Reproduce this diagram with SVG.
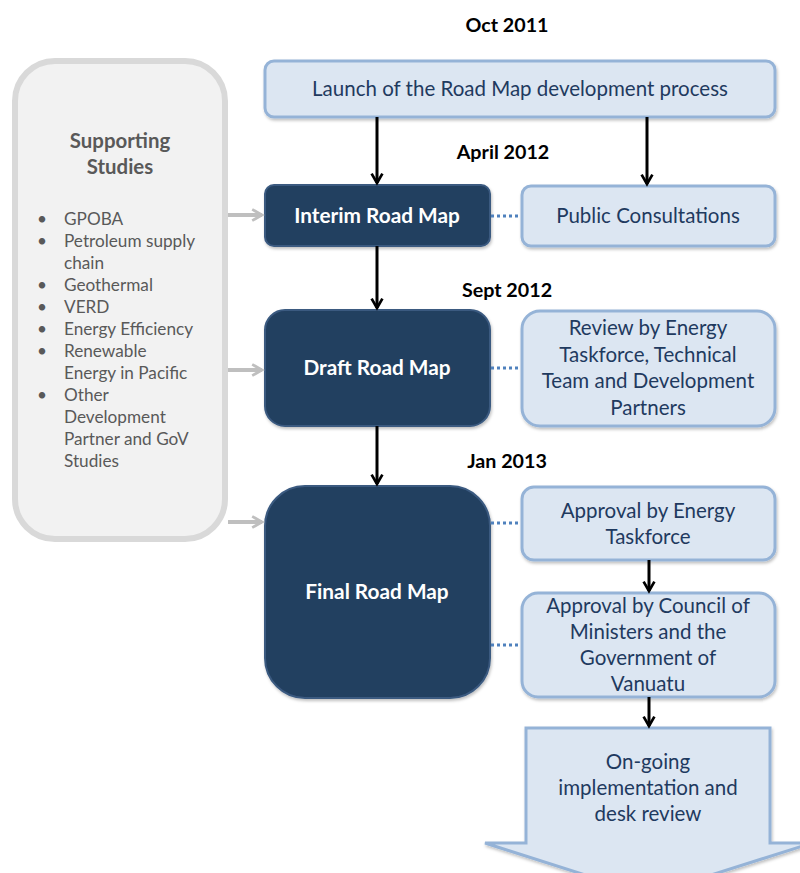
<svg xmlns="http://www.w3.org/2000/svg" width="800" height="873" viewBox="0 0 800 873">
<defs>
<style>
.lt{fill:#dce6f2;stroke:#95b3d7;stroke-width:3}
.dk{fill:#243f60;stroke:#3a5a80;stroke-width:2}
.t{font-family:Lato,"Liberation Sans",sans-serif;font-size:20.5px;fill:#1f3a5f;text-anchor:middle}
.w{font-family:Lato,"Liberation Sans",sans-serif;font-size:20.8px;font-weight:bold;fill:#ffffff;text-anchor:middle}
.d{font-family:Lato,"Liberation Sans",sans-serif;font-size:19.7px;font-weight:bold;fill:#000000;text-anchor:middle}
.g{font-family:Lato,"Liberation Sans",sans-serif;font-size:17.2px;fill:#595959}
.gh{font-family:Lato,"Liberation Sans",sans-serif;font-size:20.4px;font-weight:bold;fill:#595959;text-anchor:middle}
.blk{stroke:#000;stroke-width:3;fill:none}
.gry{stroke:#bfbfbf;stroke-width:4;fill:none}
.dot{stroke:#4f81bd;stroke-width:3;stroke-dasharray:3 3;fill:none}
</style>
<marker id="ah" viewBox="0 0 10 10" refX="8" refY="5" markerWidth="4.5" markerHeight="4.5" orient="auto" markerUnits="strokeWidth">
<path d="M1,1 L8,5 L1,9" fill="none" stroke="#000" stroke-width="2"/>
</marker>
<marker id="ag" viewBox="0 0 10 10" refX="8" refY="5" markerWidth="3.5" markerHeight="3.5" orient="auto" markerUnits="strokeWidth">
<path d="M1,1 L8,5 L1,9" fill="none" stroke="#bfbfbf" stroke-width="2"/>
</marker>
<filter id="sh" x="-10%" y="-10%" width="120%" height="130%">
<feDropShadow dx="1" dy="2" stdDeviation="1.5" flood-color="#000" flood-opacity="0.25"/>
</filter>
</defs>
<rect width="800" height="873" fill="#ffffff"/>

<text class="d" x="507" y="32">Oct 2011</text>
<text class="d" x="503" y="159">April 2012</text>
<text class="d" x="507" y="297">Sept 2012</text>
<text class="d" x="507" y="468">Jan 2013</text>

<g id="supporting">
<rect x="15" y="61" width="210" height="478" rx="40" fill="#f2f2f2" stroke="#d9d9d9" stroke-width="6"/>
<text class="gh" x="120" y="148">Supporting</text>
<text class="gh" x="120" y="174">Studies</text>
<g class="g">
<text x="37" y="225">•</text><text x="64" y="225">GPOBA</text>
<text x="37" y="247">•</text><text x="64" y="247">Petroleum supply</text>
<text x="64" y="269">chain</text>
<text x="37" y="291">•</text><text x="64" y="291">Geothermal</text>
<text x="37" y="313">•</text><text x="64" y="313">VERD</text>
<text x="37" y="335">•</text><text x="64" y="335">Energy Efficiency</text>
<text x="37" y="357">•</text><text x="64" y="357">Renewable</text>
<text x="64" y="379">Energy in Pacific</text>
<text x="37" y="401">•</text><text x="64" y="401">Other</text>
<text x="64" y="423">Development</text>
<text x="64" y="445">Partner and GoV</text>
<text x="64" y="467">Studies</text>
</g>
</g>

<g id="launch">
<rect class="lt" x="265" y="61" width="510" height="56" rx="9" filter="url(#sh)"/>
<text class="t" x="520" y="96">Launch of the Road Map development process</text>
</g>

<g id="interim">
<rect class="dk" x="265" y="185" width="225" height="61" rx="9" filter="url(#sh)"/>
<text class="w" x="377" y="223">Interim Road Map</text>
</g>

<g id="public">
<rect class="lt" x="522" y="186" width="253" height="60" rx="9" filter="url(#sh)"/>
<text class="t" x="648" y="223">Public Consultations</text>
</g>

<g id="draft">
<rect class="dk" x="265" y="310" width="225" height="116" rx="20" filter="url(#sh)"/>
<text class="w" x="377" y="375">Draft Road Map</text>
</g>

<g id="review">
<rect class="lt" x="522" y="311" width="253" height="115" rx="18" filter="url(#sh)"/>
<text class="t" x="648" y="335">Review by Energy</text>
<text class="t" x="648" y="362">Taskforce, Technical</text>
<text class="t" x="648" y="388">Team and Development</text>
<text class="t" x="648" y="415">Partners</text>
</g>

<g id="final">
<rect class="dk" x="265" y="486" width="225" height="212" rx="40" filter="url(#sh)"/>
<text class="w" x="377" y="599">Final Road Map</text>
</g>

<g id="approval-et">
<rect class="lt" x="522" y="487" width="253" height="73" rx="12" filter="url(#sh)"/>
<text class="t" x="648" y="518">Approval by Energy</text>
<text class="t" x="648" y="544">Taskforce</text>
</g>

<g id="approval-cm">
<rect class="lt" x="522" y="593" width="253" height="104" rx="16" filter="url(#sh)"/>
<text class="t" x="648" y="613">Approval by Council of</text>
<text class="t" x="648" y="639">Ministers and the</text>
<text class="t" x="648" y="665">Government of</text>
<text class="t" x="648" y="691">Vanuatu</text>
</g>

<g id="ongoing">
<path class="lt" d="M526,728 L770,728 L770,843 L812,843 L648,895 L485,843 L526,843 Z" filter="url(#sh)"/>
<text class="t" x="648" y="769">On-going</text>
<text class="t" x="648" y="795">implementation and</text>
<text class="t" x="648" y="821">desk review</text>
</g>

<g id="connectors">
<line class="blk" x1="377" y1="117" x2="377" y2="183" marker-end="url(#ah)"/>
<line class="blk" x1="647" y1="117" x2="647" y2="184" marker-end="url(#ah)"/>
<line class="blk" x1="377" y1="246" x2="377" y2="308" marker-end="url(#ah)"/>
<line class="blk" x1="377" y1="426" x2="377" y2="484" marker-end="url(#ah)"/>
<line class="blk" x1="649" y1="560" x2="649" y2="591" marker-end="url(#ah)"/>
<line class="blk" x1="649" y1="697" x2="649" y2="726" marker-end="url(#ah)"/>
<line class="gry" x1="228" y1="215" x2="262" y2="215" marker-end="url(#ag)"/>
<line class="gry" x1="228" y1="370" x2="262" y2="370" marker-end="url(#ag)"/>
<line class="gry" x1="228" y1="522" x2="262" y2="522" marker-end="url(#ag)"/>
<line class="dot" x1="491" y1="216" x2="521" y2="216"/>
<line class="dot" x1="491" y1="368" x2="521" y2="368"/>
<line class="dot" x1="491" y1="523" x2="521" y2="523"/>
<line class="dot" x1="491" y1="645" x2="521" y2="645"/>
</g>
</svg>
